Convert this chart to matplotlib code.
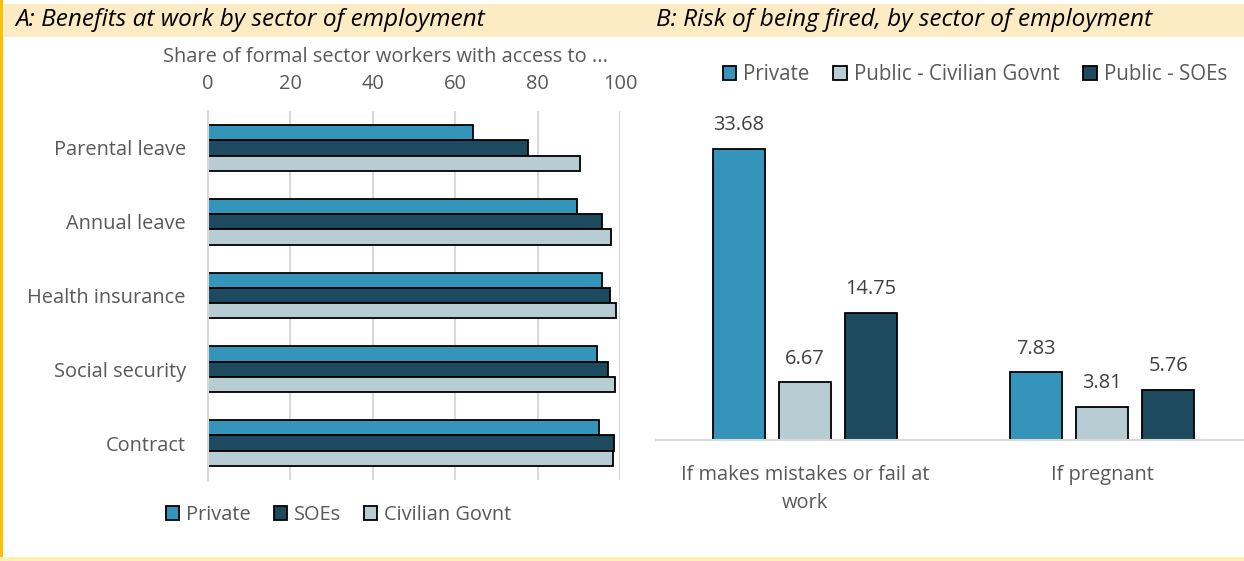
import matplotlib
matplotlib.use("Agg")
import matplotlib.pyplot as plt
from matplotlib.patches import Rectangle
import numpy as np

plt.rcParams['font.family'] = ['Open Sans', 'DejaVu Sans']

# Panel A: share of formal sector workers with access to each benefit (%)
benefits = ["Parental leave", "Annual leave", "Health insurance", "Social security", "Contract"]
private_access = [64.2, 89.6, 95.6, 94.5, 94.9]
soe_access = [77.7, 95.7, 97.6, 97.2, 98.6]
civil_access = [90.3, 97.9, 99.0, 98.8, 98.4]
access_ticks = [0, 20, 40, 60, 80, 100]

# Panel B: risk of being fired (%)
risk_cases = ["If makes mistakes or fail at\nwork", "If pregnant"]
private_risk = [33.68, 7.83]
civil_risk = [6.67, 3.81]
soe_risk = [14.75, 5.76]

C_PRIVATE = "#3494BA"
C_SOE = "#1D4A5E"
C_CIVIL = "#B7CDD3"
TEXT = "#595959"
LABEL = "#404040"
GRID = "#D9D9D9"
FS = 14.4

W, H = 1244, 561
fig = plt.figure(figsize=(W / 100, H / 100), dpi=100)


def fx(px):
    return px / W


def fy(py):
    return 1 - py / H


# Frame decorations: header band, left rule and bottom rule
fig.patches.append(Rectangle((fx(4), fy(37)), 1 - fx(4), 33 / H, transform=fig.transFigure,
                             facecolor="#FDEBC4", edgecolor="none", zorder=0))
fig.patches.append(Rectangle((0, 0), 3 / W, 1, transform=fig.transFigure,
                             facecolor="#FFC000", edgecolor="none", zorder=0))
fig.patches.append(Rectangle((0, 0), 1, 4 / H, transform=fig.transFigure,
                             facecolor="#FFEFB5", edgecolor="none", zorder=0))

fig.text(fx(15), fy(20), "A: Benefits at work by sector of employment", ha="left", va="center",
         fontsize=17.6, style="italic", color="black")
fig.text(fx(656), fy(20), "B: Risk of being fired, by sector of employment", ha="left", va="center",
         fontsize=17.6, style="italic", color="black")

# ---------------- Panel A ----------------
ax1 = fig.add_axes([fx(208), fy(480), (620 - 208) / W, (480 - 111) / H])
yy = np.arange(len(benefits))
bh = 0.207
ax1.barh(yy - bh, private_access, height=bh, color=C_PRIVATE, edgecolor="black", linewidth=1.3, label="Private")
ax1.barh(yy, soe_access, height=bh, color=C_SOE, edgecolor="black", linewidth=1.3, label="SOEs")
ax1.barh(yy + bh, civil_access, height=bh, color=C_CIVIL, edgecolor="black", linewidth=1.3, label="Civilian Govnt")
ax1.set_xlim(0, 100)
ax1.set_ylim(len(benefits) - 0.5, -0.5)
ax1.set_yticks(yy)
ax1.set_yticklabels(benefits)
ax1.xaxis.tick_top()
ax1.set_xticks(access_ticks)
ax1.tick_params(axis="x", length=0, labelsize=FS, colors=TEXT, pad=12)
ax1.tick_params(axis="y", length=0, labelsize=FS, colors=TEXT, pad=16)
ax1.grid(axis="x", color=GRID, linewidth=1.5)
ax1.set_axisbelow(True)
for s in ["top", "right", "bottom"]:
    ax1.spines[s].set_visible(False)
ax1.spines["left"].set_color(GRID)
ax1.spines["left"].set_linewidth(1.5)
fig.text(fx(385.5), fy(57), "Share of formal sector workers with access to ...", ha="center", va="center",
         fontsize=FS, color=TEXT)
fig.legend(*ax1.get_legend_handles_labels(), loc="center", bbox_to_anchor=(fx(339), fy(515)), ncol=3,
           frameon=False, fontsize=FS, labelcolor=TEXT, handlelength=0.65, handleheight=0.65,
           handletextpad=0.35, columnspacing=1.15)

# ---------------- Panel B ----------------
ax2 = fig.add_axes([fx(656), fy(440), (W - 656) / W, (440 - 100) / H])
xx = np.arange(len(risk_cases))
bw, pitch = 0.1766, 0.222
b1 = ax2.bar(xx - pitch, private_risk, width=bw, color=C_PRIVATE, edgecolor="black", linewidth=1.3, label="Private")
b2 = ax2.bar(xx, civil_risk, width=bw, color=C_CIVIL, edgecolor="black", linewidth=1.3, label="Public - Civilian Govnt")
b3 = ax2.bar(xx + pitch, soe_risk, width=bw, color=C_SOE, edgecolor="black", linewidth=1.3, label="Public - SOEs")
for bars in (b1, b2, b3):
    ax2.bar_label(bars, fmt="%.2f", padding=10, fontsize=FS, color=LABEL)
ax2.set_xlim(-0.501, 1.477)
ax2.set_ylim(0, 39.4)
ax2.set_yticks([])
ax2.set_xticks(xx)
ax2.set_xticklabels(risk_cases, linespacing=1.55)
ax2.tick_params(axis="x", length=0, labelsize=FS, colors=TEXT, pad=18)
for s in ["top", "right", "left"]:
    ax2.spines[s].set_visible(False)
ax2.spines["bottom"].set_color(GRID)
ax2.spines["bottom"].set_linewidth(1.5)
ax2.legend(loc="center", bbox_to_anchor=(fx(975), fy(75)), bbox_transform=fig.transFigure, ncol=3,
           frameon=False, fontsize=14.8, labelcolor=TEXT, handlelength=0.65, handleheight=0.65,
           handletextpad=0.35, columnspacing=1.15)

fig.savefig("out.png", dpi=100)
